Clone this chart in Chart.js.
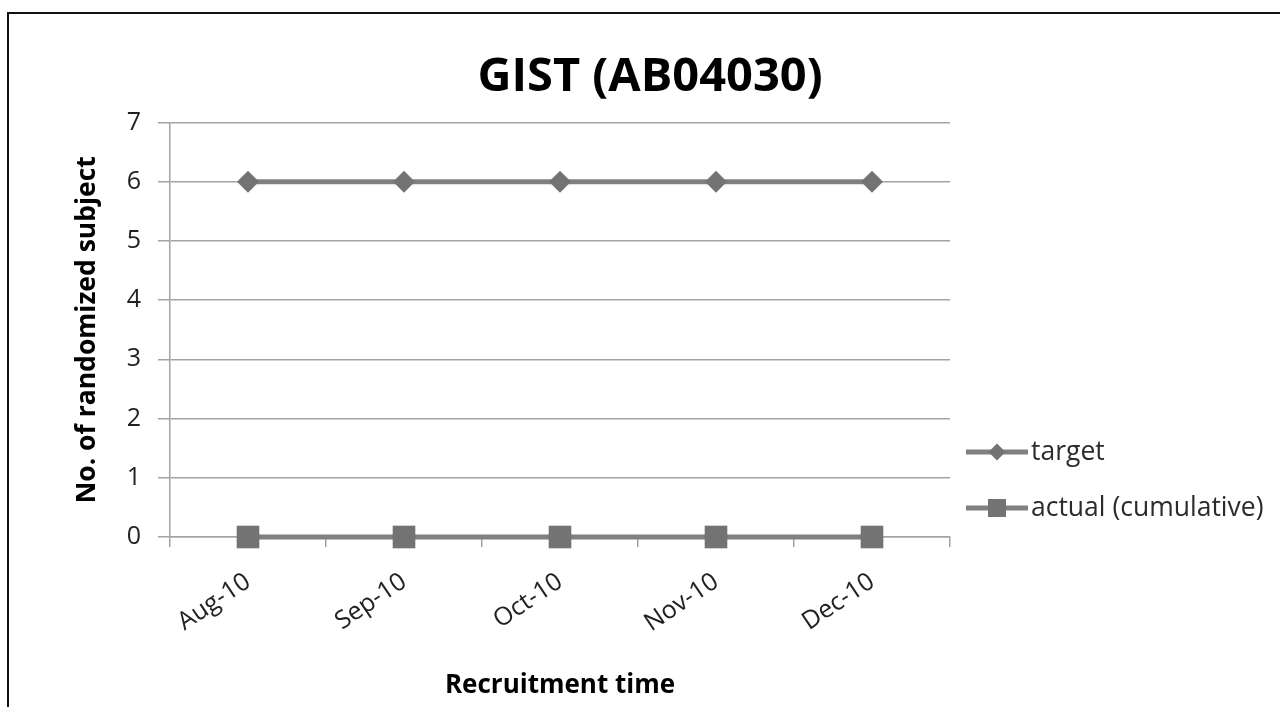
<!DOCTYPE html>
<html>
<head>
<meta charset="utf-8">
<script src="https://cdn.jsdelivr.net/npm/chart.js@4/dist/chart.umd.min.js"></script>
<style>
  html, body { margin: 0; padding: 0; background: #fff; }
  #wrap { position: relative; width: 1280px; height: 707px; }
  canvas { display: block; }
</style>
</head>
<body>
<div id="wrap"><canvas id="c" width="1280" height="707"></canvas></div>
<script>
const categories = ['Aug-10', 'Sep-10', 'Oct-10', 'Nov-10', 'Dec-10'];
const targetValues = [6, 6, 6, 6, 6];
const actualValues = [0, 0, 0, 0, 0];
const seriesNames = ['target', 'actual (cumulative)'];
const yTicks = [0, 1, 2, 3, 4, 5, 6, 7];

const FONT = '"Open Sans", Lato, sans-serif';
const GRID = '#a3a3a3';

const frame = {
  id: 'frame',
  beforeDraw(chart) {
    const ctx = chart.ctx;
    ctx.save();
    ctx.fillStyle = '#fff';
    ctx.fillRect(0, 0, chart.width, chart.height);
    ctx.strokeStyle = '#111';
    ctx.lineWidth = 2;
    ctx.beginPath();
    ctx.moveTo(8, 707);
    ctx.lineTo(8, 13);
    ctx.lineTo(1280, 13);
    ctx.stroke();
    ctx.restore();
  }
};

const sideLegend = {
  id: 'sideLegend',
  afterDraw(chart) {
    const ctx = chart.ctx;
    const rows = [452, 508];
    ctx.save();
    chart.data.datasets.forEach((ds, i) => {
      const y = rows[i];
      ctx.strokeStyle = ds.borderColor;
      ctx.lineWidth = 5;
      ctx.beginPath();
      ctx.moveTo(966, y);
      ctx.lineTo(1028, y);
      ctx.stroke();
      ctx.fillStyle = ds.pointBackgroundColor;
      ctx.beginPath();
      if (ds.pointStyle === 'rectRot') {
        const r = 8.5;
        ctx.moveTo(997 - r, y); ctx.lineTo(997, y - r);
        ctx.lineTo(997 + r, y); ctx.lineTo(997, y + r);
        ctx.closePath();
      } else {
        ctx.rect(997 - 9, y - 9, 18, 18);
      }
      ctx.fill();
      ctx.fillStyle = '#2b2b2b';
      ctx.font = '26.5px ' + FONT;
      ctx.textBaseline = 'middle';
      ctx.textAlign = 'left';
      ctx.fillText(ds.label, 1031, y);
    });
    ctx.restore();
  }
};

new Chart(document.getElementById('c'), {
  type: 'line',
  data: {
    labels: categories,
    datasets: [
      {
        label: seriesNames[0],
        data: targetValues,
        borderColor: '#808080',
        backgroundColor: '#737373',
        pointBackgroundColor: '#737373',
        pointBorderColor: '#737373',
        borderWidth: 5,
        pointStyle: 'rectRot',
        pointRadius: 11,
        pointBorderWidth: 0,
        pointHoverRadius: 11,
        tension: 0,
        clip: false
      },
      {
        label: seriesNames[1],
        data: actualValues,
        borderColor: '#808080',
        backgroundColor: '#737373',
        pointBackgroundColor: '#737373',
        pointBorderColor: '#737373',
        borderWidth: 5,
        pointStyle: 'rect',
        pointRadius: 16,
        pointBorderWidth: 0,
        pointHoverRadius: 16,
        tension: 0,
        clip: false
      }
    ]
  },
  options: {
    responsive: false,
    animation: false,
    events: [],
    layout: { padding: { left: 20, right: 0, top: 0, bottom: 0 } },
    plugins: {
      legend: { display: false },
      tooltip: { enabled: false },
      title: {
        display: true,
        text: 'GIST (AB04030)',
        color: '#000',
        font: { family: FONT, size: 47, weight: 'bold' },
        padding: { top: 49, bottom: 17 }
      }
    },
    scales: {
      x: {
        type: 'category',
        offset: true,
        grid: {
          offset: true,
          drawOnChartArea: false,
          drawTicks: true,
          tickLength: 10,
          color: GRID,
          lineWidth: 1.5
        },
        border: { display: true, color: GRID, width: 1.5 },
        ticks: {
          color: '#222',
          font: { family: FONT, size: 25 },
          minRotation: 34,
          maxRotation: 34,
          padding: 20,
          autoSkip: false
        },
        title: {
          display: true,
          text: 'Recruitment time',
          color: '#000',
          font: { family: FONT, size: 26, weight: 'bold' },
          padding: { top: 0, bottom: 6 }
        },
        afterFit(scale) { scale.height = 707 - 537; }
      },
      y: {
        min: 0,
        max: 7,
        afterBuildTicks(scale) { scale.ticks = yTicks.map(v => ({ value: v })); },
        grid: {
          color: GRID,
          lineWidth: 1.5,
          drawTicks: true,
          tickLength: 12
        },
        border: { display: true, color: GRID, width: 1.5 },
        ticks: {
          color: '#222',
          font: { family: FONT, size: 25 },
          padding: 17,
          stepSize: 1
        },
        title: {
          display: true,
          text: 'No. of randomized subject',
          color: '#000',
          font: { family: FONT, size: 26.5, weight: 'bold' },
          padding: { top: 52, bottom: 0 }
        },
        afterFit(scale) { scale.width = 150; }
      },
      side: {
        type: 'linear',
        position: 'right',
        display: true,
        grid: { display: false, drawTicks: false },
        border: { display: false },
        ticks: { display: false },
        afterFit(scale) { scale.width = 330; }
      }
    }
  },
  plugins: [frame, sideLegend]
});
</script>
</body>
</html>
